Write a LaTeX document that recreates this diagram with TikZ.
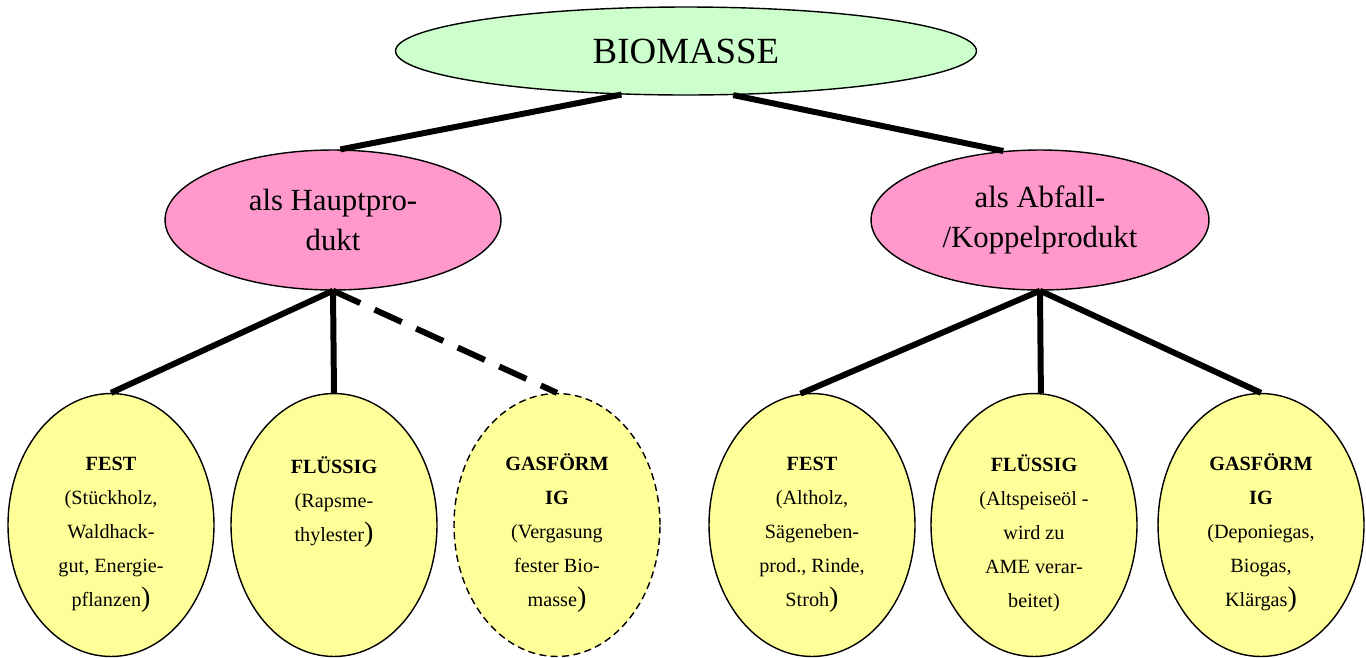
\documentclass[tikz,border=0pt]{standalone}
\usepackage{fontspec}
\setmainfont{Liberation Serif}
\usetikzlibrary{positioning,shapes.geometric}
\definecolor{mGreen}{HTML}{CCFFCC}
\definecolor{mPink}{HTML}{FF99CC}
\definecolor{mYellow}{HTML}{FFFF99}
\newcommand{\bigpar}{{\fontsize{16}{16}\selectfont )}}
\newcommand{\bnode}[4]{%
 \node[leaf, #4] (#2) at (#1,525) {\rule{0pt}{19pt}#3};}

\begin{document}
\begin{tikzpicture}[x=0.02cm, y=-0.02cm,
  blob/.style={ellipse, draw=black, line width=0.8pt, inner sep=0pt, align=center},
  leaf/.style={blob, fill=mYellow, minimum width=4.12cm, minimum height=5.26cm,
    font=\fontsize{11.5}{19.4}\selectfont},
  link/.style={line width=3.4pt}]
\useasboundingbox (0,0) rectangle (1366,657);
% top
\node[blob, fill=mGreen, minimum width=11.62cm, minimum height=1.76cm,
  font=\fontsize{21}{25}\selectfont] (bio) at (686,51) {BIOMASSE};
% middle
\node[blob, fill=mPink, minimum width=6.72cm, minimum height=2.8cm,
  font=\fontsize{17.5}{22.7}\selectfont] (haupt) at (333,220) {als Hauptpro-\\dukt};
\node[blob, fill=mPink, minimum width=6.76cm, minimum height=2.8cm,
  font=\fontsize{17.5}{22.7}\selectfont] (abfall) at (1040,220) {als Abfall-\\/Koppelprodukt};
% bottom
\bnode{111}{fest1}{\textbf{FEST}\\(Stückholz,\\Waldhack-\\gut, Energie-\\pflanzen\bigpar}{}
\bnode{334}{fl1}{\textbf{FLÜSSIG}\\(Rapsme-\\thylester\bigpar\\~\\~}{}
\bnode{557}{gas1}{\textbf{GASFÖRM}\\\textbf{IG}\\(Vergasung\\fester Bio-\\masse\bigpar}{dash pattern=on 4pt off 2.5pt}
\bnode{812}{fest2}{\textbf{FEST}\\(Altholz,\\Sägeneben-\\prod., Rinde,\\Stroh\bigpar}{}
\bnode{1034}{fl2}{\textbf{FLÜSSIG}\\(Altspeiseöl -\\wird zu\\AME verar-\\beitet)}{}
\bnode{1261}{gas2}{\textbf{GASFÖRM}\\\textbf{IG}\\(Deponiegas,\\Biogas,\\Klärgas\bigpar}{}
% connectors
\draw[link] (bio.214) -- (haupt.84);
\draw[link] (bio.317) -- (abfall.118);
\draw[link] (haupt.south) -- (fest1.north);
\draw[link] (haupt.south) -- (fl1.north);
\draw[link, dash pattern=on 17pt off 9pt] (haupt.south) -- (gas1.north);
\draw[link] (abfall.south) -- (fest2.95);
\draw[link] (abfall.south) -- (fl2.87);
\draw[link] (abfall.south) -- (gas2.north);
\end{tikzpicture}
\end{document}
